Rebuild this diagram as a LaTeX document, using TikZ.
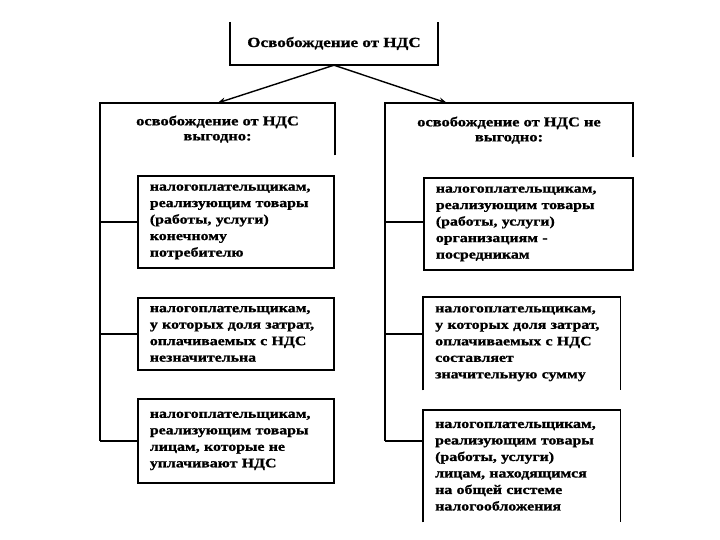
\documentclass[tikz,border=0pt]{standalone}
\usepackage{fontspec}
\setmainfont{Liberation Serif}[FakeStretch=1.22, BoldFeatures={FakeBold=1.2}]
\usetikzlibrary{arrows.meta,calc}
\begin{document}
\begin{tikzpicture}[x=1pt,y=-1pt,
  edge/.style={line width=1.8pt},
  arr/.style={line width=1.4pt,-{Stealth[length=8pt,width=6pt]}},
  childbox/.style={anchor=north west, inner xsep=12pt, inner ysep=0pt, align=left,
    font=\bfseries\fontsize{13}{16.5}\selectfont},
  fullbox/.style={childbox, draw, line width=1.8pt},
  headbox/.style={anchor=north, align=center, inner sep=0pt,
    font=\bfseries\fontsize{13.5}{15}\selectfont},
  titlebox/.style={align=center, inner sep=0pt, font=\bfseries\fontsize{14}{17}\selectfont}]
\useasboundingbox (0,0) rectangle (720,540);
\fill[white] (0,0) rectangle (720,540);

% top
\node[titlebox, minimum width=208pt, minimum height=43pt] (top) at (334,43.5) {Освобождение от НДС};
\draw[edge] (top.north west) -- (top.south west) -- (top.south east) -- (top.north east);

% headers
\node[headbox, minimum width=235pt, minimum height=52pt] (gl) at (217.5,103) {освобождение от НДС\\выгодно:};
\node[headbox, minimum width=248pt, minimum height=54pt] (gr) at (509,103) {освобождение от НДС не\\выгодно:};
\coordinate (grin) at ($(gr.north west)!0.25!(gr.north east)$);

\draw[arr] (top.south) -- (gl.north);
\draw[arr] (top.south) -- (grin);

% left children
\node[fullbox, text width=172pt, minimum height=92pt] (l1) at (137,175)
  {налогоплательщикам,\\реализующим товары\\(работы, услуги)\\конечному\\потребителю};
\node[fullbox, text width=172pt, minimum height=72pt] (l2) at (137,297)
  {налогоплательщикам,\\у которых доля затрат,\\оплачиваемых с НДС\\незначительна};
\node[fullbox, text width=172pt, minimum height=84pt] (l3) at (137,398)
  {налогоплательщикам,\\реализующим товары\\лицам, которые не\\уплачивают НДС};

% right children
\node[fullbox, text width=185pt, minimum height=92pt] (r1) at (423,177)
  {налогоплательщикам,\\реализующим товары\\(работы, услуги)\\организациям -\\посредникам};
\node[childbox, text width=173pt, minimum height=93pt] (r2) at (423,297)
  {налогоплательщикам,\\у которых доля затрат,\\оплачиваемых с НДС\\составляет\\значительную сумму};
\node[childbox, text width=173pt, minimum height=112pt] (r3) at (423,410)
  {налогоплательщикам,\\реализующим товары\\(работы, услуги)\\лицам, находящимся\\на общей системе\\налогообложения};
\draw[edge] (r2.south west) -- (r2.north west) -- (r2.north east) -- (r2.south east);
\draw[edge] (r3.south west) -- (r3.north west) -- (r3.north east) -- (r3.south east);

% header frames and trunks
\coordinate (lend) at (gl.north west |- l3.west);
\coordinate (rend) at (gr.north west |- l3.west);
\coordinate (r3in) at (r3.north west |- l3.west);
\draw[edge] (gl.south east) -- (gl.north east) -- (gl.north west) -- (lend);
\draw[edge] (gr.south east) -- (gr.north east) -- (gr.north west) -- (rend);

% branches
\draw[edge] (gl.north west |- l1.west) -- (l1.west);
\draw[edge] (gl.north west |- l2.west) -- (l2.west);
\draw[edge] (lend) -- (l3.west);
\draw[edge] (gr.north west |- l1.west) -- (r1.west |- l1.west);
\draw[edge] (gr.north west |- l2.west) -- (r2.west |- l2.west);
\draw[edge] (rend) -- (r3in);
\end{tikzpicture}
\end{document}
